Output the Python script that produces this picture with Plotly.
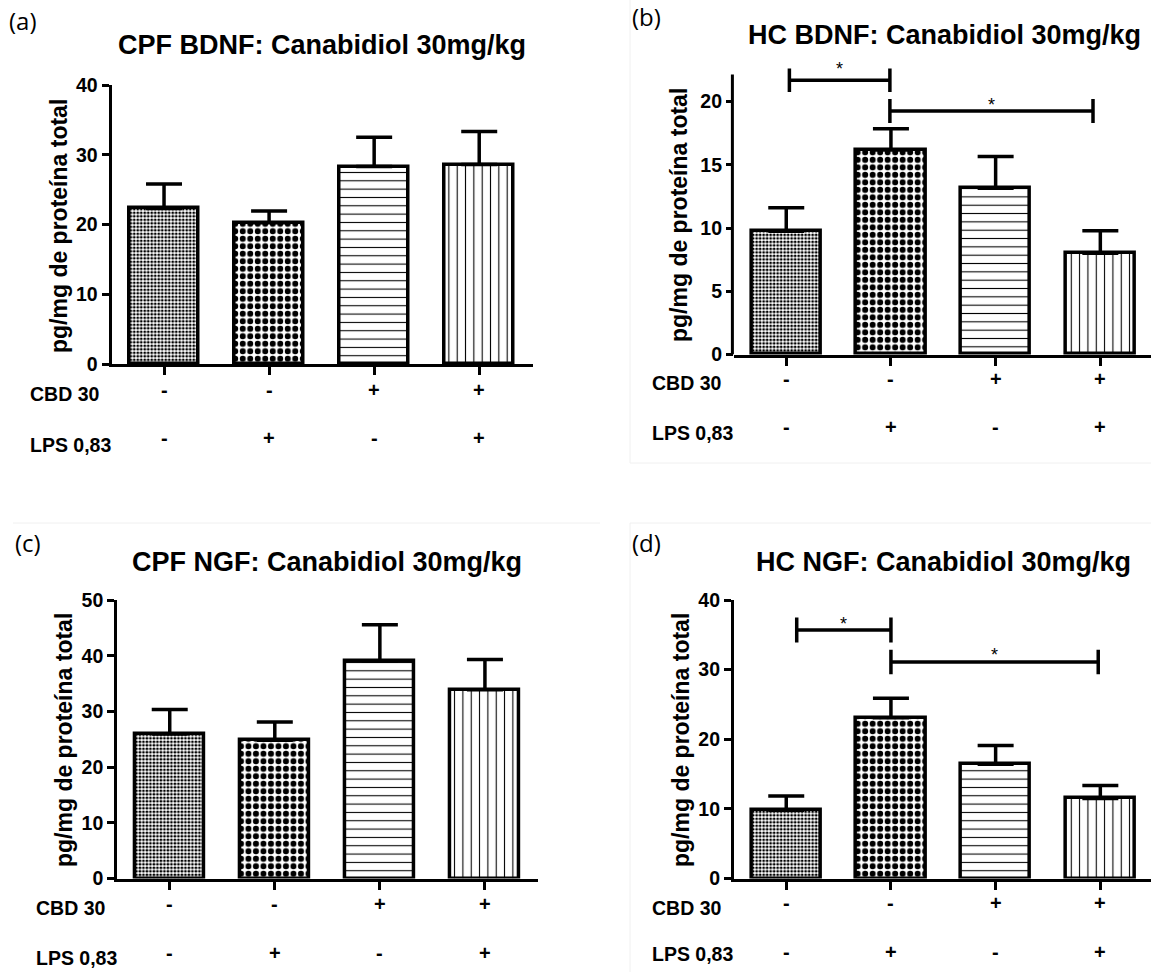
import plotly.graph_objects as go

W, H = 1151, 972

# ---------------- data ----------------
categories = [0, 1, 2, 3]
cbd_signs = ["-", "-", "+", "+"]
lps_signs = ["-", "+", "-", "+"]
row_labels = ["CBD 30", "LPS 0,83"]

titles = ["CPF BDNF: Canabidiol 30mg/kg", "HC BDNF: Canabidiol 30mg/kg",
          "CPF NGF: Canabidiol 30mg/kg", "HC NGF: Canabidiol 30mg/kg"]
panel_tags = ["(a)", "(b)", "(c)", "(d)"]
y_title = "pg/mg de proteína total"

cpf_bdnf_mean = [22.3, 20.25, 28.3, 28.6]
cpf_bdnf_sem = [3.5, 1.7, 4.2, 4.75]
hc_bdnf_mean = [9.75, 16.18, 13.16, 8.0]
hc_bdnf_sem = [1.85, 1.67, 2.5, 1.78]
cpf_ngf_mean = [25.95, 24.8, 39.05, 33.9]
cpf_ngf_sem = [4.4, 3.3, 6.5, 5.4]
hc_ngf_mean = [9.8, 23.1, 16.4, 11.5]
hc_ngf_sem = [2.05, 2.8, 2.7, 1.85]

# significance brackets: (x_start, x_end, y_level, cap_half_height, star_level)
hc_bdnf_sig = [(0.03, 0.99, 21.7, 0.93, 23.1), (0.99, 2.93, 19.27, 0.95, 20.3)]
hc_ngf_sig = [(0.1, 1.0, 35.7, 1.8, 37.6), (1.0, 2.98, 31.1, 1.75, 33.1)]
sig_text = "*"

means = [cpf_bdnf_mean, hc_bdnf_mean, cpf_ngf_mean, hc_ngf_mean]
sems = [cpf_bdnf_sem, hc_bdnf_sem, cpf_ngf_sem, hc_ngf_sem]
sigs = [[], hc_bdnf_sig, [], hc_ngf_sig]

# ---------------- layout / style ----------------
def fx(p):
    return p / W

def fy(p):
    return 1 - p / H

FONT = "Liberation Sans, Arial, sans-serif"

specs = [
    dict(xdom=(111.5, 532.8), xr=(-0.5, 3.51), ydom=(85, 364), yr=(0, 40), dtick=10,
         title=(322, 45), tag=(23, 21), ytit=(59, 226), lab_x=28.3,
         rows=(394, 445), signs=(390, 438), axis_top=None),
    dict(xdom=(733.9, 1151), xr=(-0.5, 3.484), ydom=(51.1, 354.5), yr=(0, 24), dtick=5,
         title=(944, 35), tag=(646, 16), ytit=(679, 215), lab_x=650.3,
         rows=(382.5, 432.5), signs=(379, 427), axis_top=22.15),
    dict(xdom=(117.2, 538.2), xr=(-0.5, 3.507), ydom=(600, 878.5), yr=(0, 50), dtick=10,
         title=(327, 562), tag=(28, 542), ytit=(64, 740), lab_x=33.8,
         rows=(907.5, 958.3), signs=(904, 952.5), axis_top=None),
    dict(xdom=(733.9, 1151), xr=(-0.5, 3.484), ydom=(600, 878.5), yr=(0, 40), dtick=10,
         title=(943, 562), tag=(646, 542), ytit=(681, 740), lab_x=650.3,
         rows=(908.3, 954), signs=(903, 952), axis_top=None),
]

pattern_shapes = [".", ".", "-", "|"]
pattern_sizes = [3.5, 7.5, 8.33, 8.33]
pattern_solid = [0.5, 0.5, 0.13, 0.13]

fig = go.Figure()
annotations = []
shapes = []

for i, sp in enumerate(specs):
    n = "" if i == 0 else str(i + 1)
    xa, ya = "x" + n, "y" + n
    fig.add_trace(go.Bar(
        x=categories, y=means[i], width=0.66,
        xaxis=xa, yaxis=ya, showlegend=False, hoverinfo="skip",
        marker=dict(color="white", line=dict(color="black", width=3.5),
                    pattern=dict(shape=pattern_shapes, size=pattern_sizes,
                                 solidity=pattern_solid, fgcolor="black",
                                 bgcolor="white", fillmode="replace")),
        error_y=dict(type="data", symmetric=False, array=sems[i],
                     arrayminus=[0] * len(sems[i]), color="black",
                     thickness=3.5, width=18),
    ))
    xkey, ykey = "xaxis" + n, "yaxis" + n
    fig.layout[xkey] = dict(
        domain=[fx(sp["xdom"][0]), fx(sp["xdom"][1])], range=list(sp["xr"]),
        anchor=ya, showline=True, linecolor="black", linewidth=3,
        ticks="outside", ticklen=8, tickwidth=3, tickcolor="black",
        tickvals=categories, showticklabels=False, showgrid=False, zeroline=False,
        fixedrange=True, automargin=False)
    fig.layout[ykey] = dict(
        domain=[fy(sp["ydom"][1]), fy(sp["ydom"][0])], range=list(sp["yr"]),
        anchor=xa, showline=sp["axis_top"] is None, linecolor="black", linewidth=3,
        ticks="outside", ticklen=7, tickwidth=3, tickcolor="black",
        dtick=sp["dtick"], tick0=0, showgrid=False, zeroline=False,
        tickfont=dict(family=FONT, size=19.5, color="black", weight="bold"),
        fixedrange=True, automargin=False)
    if sp["axis_top"] is not None:
        shapes.append(dict(type="line", xref=xa + " domain", yref=ya,
                           xsizemode="pixel", xanchor=0, x0=-1.5, x1=-1.5,
                           y0=0, y1=sp["axis_top"],
                           line=dict(color="black", width=3)))

    # title
    annotations.append(dict(text=titles[i], xref="paper", yref="paper",
                            x=fx(sp["title"][0]), y=fy(sp["title"][1]),
                            xanchor="center", yanchor="middle", showarrow=False,
                            font=dict(family=FONT, size=27, color="black", weight="bold")))
    # panel tag
    annotations.append(dict(text=panel_tags[i], xref="paper", yref="paper",
                            x=fx(sp["tag"][0]), y=fy(sp["tag"][1]),
                            xanchor="center", yanchor="middle", showarrow=False,
                            font=dict(family="Open Sans", size=24, color="black")))
    # y title
    annotations.append(dict(text=y_title, xref="paper", yref="paper",
                            x=fx(sp["ytit"][0]), y=fy(sp["ytit"][1]), textangle=-90,
                            xanchor="center", yanchor="middle", showarrow=False,
                            font=dict(family=FONT, size=23, color="black", weight="bold")))
    # row labels
    for lab, ry in zip(row_labels, sp["rows"]):
        annotations.append(dict(text=lab, xref="paper", yref="paper",
                                x=fx(sp["lab_x"]), y=fy(ry), xanchor="left",
                                yanchor="middle", showarrow=False,
                                font=dict(family=FONT, size=19.5, color="black", weight="bold")))
    for signs, sy in zip([cbd_signs, lps_signs], sp["signs"]):
        for c, s in zip(categories, signs):
            annotations.append(dict(text=s, xref=xa, yref="paper", x=c, y=fy(sy),
                                    xanchor="center", yanchor="middle", showarrow=False,
                                    font=dict(family=FONT, size=20, color="black", weight="bold")))
    # significance brackets
    for (x0, x1, yl, ch, ys) in sigs[i]:
        shapes.append(dict(type="line", xref=xa, yref=ya, x0=x0, x1=x1, y0=yl, y1=yl,
                           line=dict(color="black", width=3.5)))
        for xe in (x0, x1):
            shapes.append(dict(type="line", xref=xa, yref=ya, x0=xe, x1=xe,
                               y0=yl - ch, y1=yl + ch,
                               line=dict(color="black", width=3.5)))
        annotations.append(dict(text=sig_text, xref=xa, yref=ya, x=(x0 + x1) / 2, y=ys,
                                xanchor="center", yanchor="middle", yshift=-7,
                                showarrow=False,
                                font=dict(family=FONT, size=18, color="black")))

# faint panel borders of the original figure
faint = dict(color="#f0f0f0", width=1)
shapes.append(dict(type="line", xref="paper", yref="paper", x0=fx(13), x1=fx(600),
                   y0=fy(523), y1=fy(523), line=faint))
shapes.append(dict(type="line", xref="paper", yref="paper", x0=fx(630), x1=1,
                   y0=fy(523), y1=fy(523), line=faint))
shapes.append(dict(type="line", xref="paper", yref="paper", x0=fx(630), x1=fx(630),
                   y0=fy(463), y1=1, line=faint))
shapes.append(dict(type="line", xref="paper", yref="paper", x0=fx(630), x1=fx(630),
                   y0=0, y1=fy(523), line=faint))
shapes.append(dict(type="line", xref="paper", yref="paper", x0=fx(630), x1=1,
                   y0=fy(463), y1=fy(463), line=faint))

fig.update_layout(width=W, height=H, margin=dict(l=0, r=0, t=0, b=0, autoexpand=False),
                  paper_bgcolor="white", plot_bgcolor="white",
                  annotations=annotations, shapes=shapes, bargap=0)

fig.write_html("out.html")
